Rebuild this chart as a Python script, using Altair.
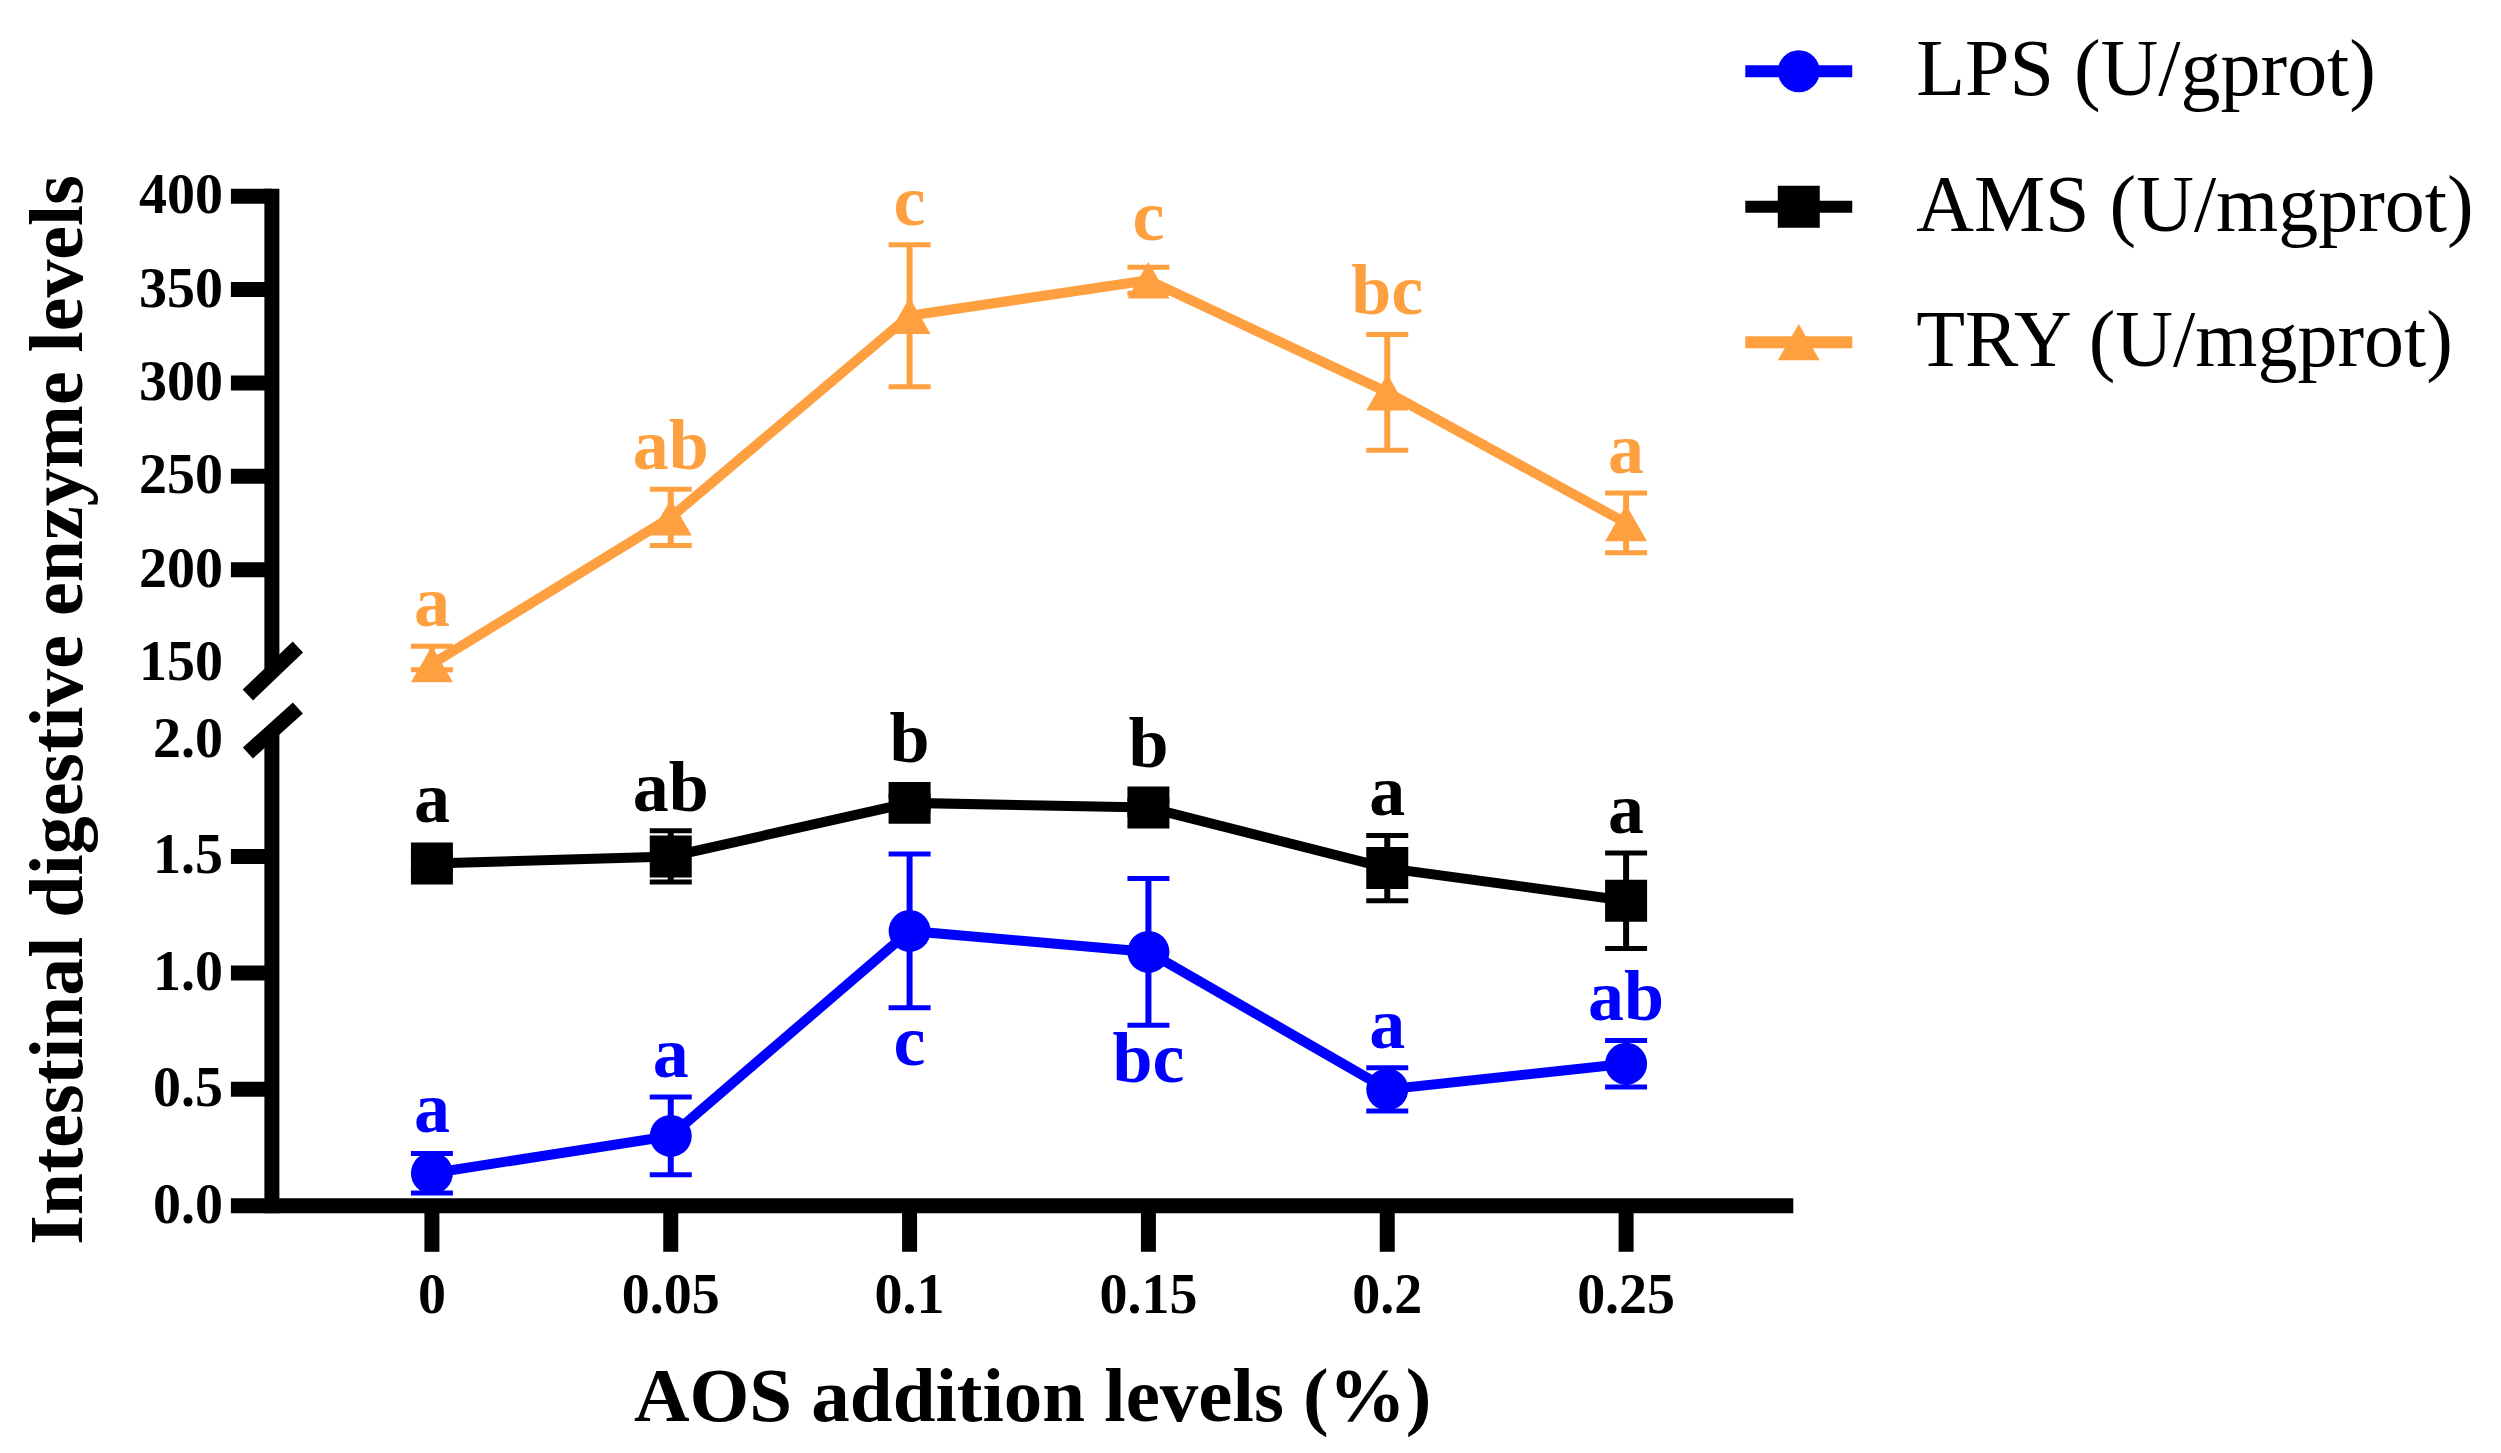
import altair as alt
import pandas as pd

# ---------------- data ----------------
x_levels = [0, 0.05, 0.1, 0.15, 0.2, 0.25]

series_names = ["LPS (U/gprot)", "AMS (U/mgprot)", "TRY (U/mgprot)"]
series_colors = ["#0000FF", "#000000", "#FFA040"]

lps_mean = [0.14, 0.30, 1.18, 1.09, 0.50, 0.61]
lps_err = [0.085, 0.167, 0.33, 0.315, 0.093, 0.10]
lps_letters = ["a", "a", "c", "bc", "a", "ab"]
lps_side = ["above", "above", "below", "below", "above", "above"]

ams_mean = [1.47, 1.50, 1.73, 1.71, 1.45, 1.31]
ams_err = [0.03, 0.11, 0.03, 0.03, 0.14, 0.205]
ams_letters = ["a", "ab", "b", "b", "a", "a"]
ams_side = ["above"] * 6

try_mean = [148, 228, 336, 355, 295, 225]
try_err = [11, 15, 38, 7, 31, 16]
try_letters = ["a", "ab", "c", "c", "bc", "a"]
try_side = ["above"] * 6

lower_ticks = [0.0, 0.5, 1.0, 1.5, 2.0]
upper_ticks = [150, 200, 250, 300, 350, 400]

x_title = "AOS addition levels (%)"
y_title = "Intestinal digestive enzyme levels"

# ---------------- style / layout ----------------
FONT = "Liberation Serif"
W = 1522
H_LO = 466          # 0 .. 2.0 segment
GAP = 77            # axis break
H_UP = 467          # 150 .. 400 segment
H = H_LO + GAP + H_UP
Y_BREAK_UP = H_UP            # pixel row of 150
Y_BREAK_LO = H_UP + GAP      # pixel row of 2.0
MARKER = 1764                # 42 px wide symbols
AXW = 15                     # axis line / tick thickness
shapes = ["circle", "square", "triangle-up"]


def build(name, mean, err, letters, side, half):
    rows = []
    for x, m, e, l, s in zip(x_levels, mean, err, letters, side):
        anchor = m + max(e, half) if s == "above" else m - e
        rows.append(dict(series=name, x=x, mean=m, lo=m - e, hi=m + e,
                         letter=l, side=s, anchor=anchor))
    return pd.DataFrame(rows)


df = pd.concat([
    build(series_names[0], lps_mean, lps_err, lps_letters, lps_side, 0.09),
    build(series_names[1], ams_mean, ams_err, ams_letters, ams_side, 0.09),
    build(series_names[2], try_mean, try_err, try_letters, try_side, 11),
], ignore_index=True)

# axis helper tables built from the tick lists
y_ticks_df = pd.DataFrame(
    [dict(v=v, label="%.1f" % v, tick=(v != lower_ticks[-1])) for v in lower_ticks]
    + [dict(v=v, label="%d" % v, tick=(v != upper_ticks[0])) for v in upper_ticks]
)
y_domain_df = pd.DataFrame([dict(a=lower_ticks[0], b=lower_ticks[-1]),
                            dict(a=upper_ticks[0], b=upper_ticks[-1])])
x_ticks_df = pd.DataFrame([dict(x=v, label=("%g" % v)) for v in x_levels])
legend_df = pd.DataFrame(dict(series=series_names))

color_scale = alt.Scale(domain=series_names, range=series_colors)
color = alt.Color("series:N", scale=color_scale, legend=None)
x_scale = alt.Scale(domain=[-0.0335, 0.285], nice=False, zero=False)
# piecewise (broken) y scale: 0-2 below the break, 150-400 above it
y_scale = alt.Scale(domain=[0, 2, 150, 400], range=[H, Y_BREAK_LO, Y_BREAK_UP, 0],
                    nice=False, zero=False)

X = alt.X("x:Q", scale=x_scale, axis=None)


def Y(field):
    return alt.Y(field, type="quantitative", scale=y_scale, axis=None)


one_row = alt.Data(values=[{"k": 1}])

# ---------------- axes drawn as marks ----------------
y_dom = alt.Chart(y_domain_df).mark_rule(strokeWidth=AXW, color="black", strokeCap="square").encode(
    x=alt.value(0), y=Y("a"), y2="b:Q")
y_tk = alt.Chart(y_ticks_df).transform_filter(alt.datum.tick).mark_rule(
    strokeWidth=AXW, color="black").encode(x=alt.value(-41), x2=alt.value(0), y=Y("v"))
y_lab = alt.Chart(y_ticks_df).mark_text(
    font=FONT, fontWeight="bold", fontSize=56, align="right", baseline="middle",
    color="black").encode(x=alt.value(-49), y=Y("v"), text="label:N")
y_ttl = alt.Chart(one_row).mark_text(
    font=FONT, fontWeight="bold", fontSize=76, angle=270, align="center",
    baseline="alphabetic", color="black", text=y_title).encode(
    x=alt.value(-190), y=alt.value(514))

x_dom = alt.Chart(one_row).mark_rule(strokeWidth=AXW, color="black").encode(
    x=alt.value(0), x2=alt.value(W), y=alt.value(H))
x_tk = alt.Chart(x_ticks_df).mark_rule(strokeWidth=AXW, color="black").encode(
    x=X, y=alt.value(H), y2=alt.value(H + 46))
x_lab = alt.Chart(x_ticks_df).mark_text(
    font=FONT, fontWeight="bold", fontSize=56, align="center", baseline="top",
    color="black").encode(x=X, y=alt.value(H + 63), text="label:N")
x_ttl = alt.Chart(one_row).mark_text(
    font=FONT, fontWeight="bold", fontSize=77, align="center", baseline="alphabetic",
    color="black", text=x_title).encode(x=alt.value(W / 2), y=alt.value(H + 215))

break_up = alt.Chart(one_row).mark_rule(strokeWidth=AXW, color="black").encode(
    x=alt.value(-24), x2=alt.value(26), y=alt.value(Y_BREAK_UP + 32), y2=alt.value(Y_BREAK_UP - 16))
break_lo = alt.Chart(one_row).mark_rule(strokeWidth=AXW, color="black").encode(
    x=alt.value(-24), x2=alt.value(26), y=alt.value(Y_BREAK_LO + 13), y2=alt.value(Y_BREAK_LO - 32))

# ---------------- data marks ----------------
base = alt.Chart(df)

lines = base.mark_line(strokeWidth=10).encode(x=X, y=Y("mean"), color=color)

bars = base.mark_rule(strokeWidth=6).encode(x=X, y=Y("lo"), y2="hi:Q", color=color)

caps = base.transform_fold(["lo", "hi"], as_=["end", "yv"]).mark_tick(
    orient="horizontal", size=42, thickness=5, opacity=1).encode(
    x=X, y=Y("yv"), color=color)

points = [
    base.transform_filter(alt.datum.series == name).mark_point(
        filled=True, size=MARKER, opacity=1, shape=shp).encode(
        x=X, y=Y("mean"), color=color)
    for name, shp in zip(series_names, shapes)
]

txt_up = base.transform_filter(alt.datum.side == "above").mark_text(
    font=FONT, fontWeight="bold", fontSize=72, baseline="alphabetic", dy=-20).encode(
    x=X, y=Y("anchor"), text="letter:N", color=color)
txt_dn = base.transform_filter(alt.datum.side == "below").mark_text(
    font=FONT, fontWeight="bold", fontSize=72, baseline="top", dy=0).encode(
    x=X, y=Y("anchor"), text="letter:N", color=color)

# ---------------- legend drawn as marks ----------------
leg_y = alt.Y("series:N", scale=alt.Scale(type="point", domain=series_names,
                                          range=[-125, 146], padding=0), axis=None)
leg_line = alt.Chart(legend_df).mark_rule(strokeWidth=12).encode(
    x=alt.value(1474), x2=alt.value(1581), y=leg_y, color=color)
leg_pts = [
    alt.Chart(legend_df).transform_filter(alt.datum.series == name).mark_point(
        filled=True, size=MARKER, opacity=1, shape=shp).encode(
        x=alt.value(1527.5), y=leg_y, color=color)
    for name, shp in zip(series_names, shapes)
]
leg_txt = alt.Chart(legend_df).mark_text(
    font=FONT, fontSize=80, fontWeight="normal", align="left", baseline="middle",
    color="black").encode(x=alt.value(1645), y=leg_y, text="series:N")

chart = alt.layer(
    y_dom, y_tk, y_lab, y_ttl, x_dom, x_tk, x_lab, x_ttl, break_up, break_lo,
    lines, bars, caps, *points, txt_up, txt_dn,
    leg_line, *leg_pts, leg_txt,
).resolve_scale(y="independent").properties(
    width=W, height=H,
    autosize=alt.AutoSizeParams(type="none"),
    padding={"left": 264, "top": 188, "right": 700, "bottom": 240},
    background="white",
).configure_view(strokeWidth=0)

chart.save("out.html", embed_options={"renderer": "svg", "actions": False})
